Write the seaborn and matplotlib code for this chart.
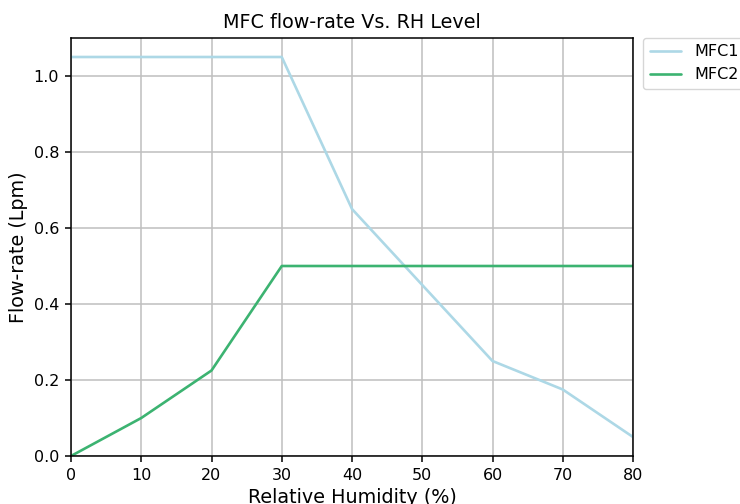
import matplotlib
matplotlib.use("Agg")
import matplotlib.pyplot as plt
import seaborn as sns
import pandas as pd

# Relative humidity set points (%)
rh_levels = [0, 10, 20, 30, 40, 50, 60, 70, 80]
# Flow-rate of each mass flow controller (Lpm)
mfc1_flow = [1.05, 1.05, 1.05, 1.05, 0.65, 0.45, 0.25, 0.175, 0.05]
mfc2_flow = [0.0, 0.1, 0.225, 0.5, 0.5, 0.5, 0.5, 0.5, 0.5]

df = pd.DataFrame({
    "RH": rh_levels * 2,
    "Flow": mfc1_flow + mfc2_flow,
    "MFC": ["MFC1"] * len(rh_levels) + ["MFC2"] * len(rh_levels),
})

sns.set_style("white")
plt.rcParams["font.family"] = ["DejaVu Sans"]
plt.rcParams["text.color"] = "black"
plt.rcParams["axes.labelcolor"] = "black"

fig = plt.figure(figsize=(7.4, 5.04), dpi=100)
ax = fig.add_axes([71 / 740, 1 - 456 / 504, (633 - 71) / 740, (456 - 38) / 504])

sns.lineplot(data=df, x="RH", y="Flow", hue="MFC",
             palette={"MFC1": "lightblue", "MFC2": "mediumseagreen"},
             linewidth=1.9, ax=ax)

ax.set_xlim(0, 80)
ax.set_ylim(0, 1.1)
ax.set_xticks(rh_levels)
ax.set_yticks([0.0, 0.2, 0.4, 0.6, 0.8, 1.0])
ax.set_yticklabels(["0.0", "0.2", "0.4", "0.6", "0.8", "1.0"])
ax.grid(True, color="#bfbfbf", linewidth=1.1)
ax.set_axisbelow(True)
for s in ax.spines.values():
    s.set_visible(True)
    s.set_color("black")
    s.set_linewidth(1.1)
ax.tick_params(axis="both", which="major", length=4.5, width=1.1, color="black",
               labelcolor="black", labelsize=11.5, pad=4,
               bottom=True, left=True, direction="out")

ax.set_title("MFC flow-rate Vs. RH Level", fontsize=13.8, color="black", pad=7)
ax.set_xlabel("Relative Humidity (%)", fontsize=13.8, labelpad=4)
ax.set_ylabel("Flow-rate (Lpm)", fontsize=13.8, labelpad=4)

leg = ax.legend(loc="upper left", bbox_to_anchor=(1.018, 1.0), fontsize=11.5,
                frameon=True, borderaxespad=0)
for t in leg.get_texts():
    t.set_color("black")

fig.savefig("out.png", dpi=100)
